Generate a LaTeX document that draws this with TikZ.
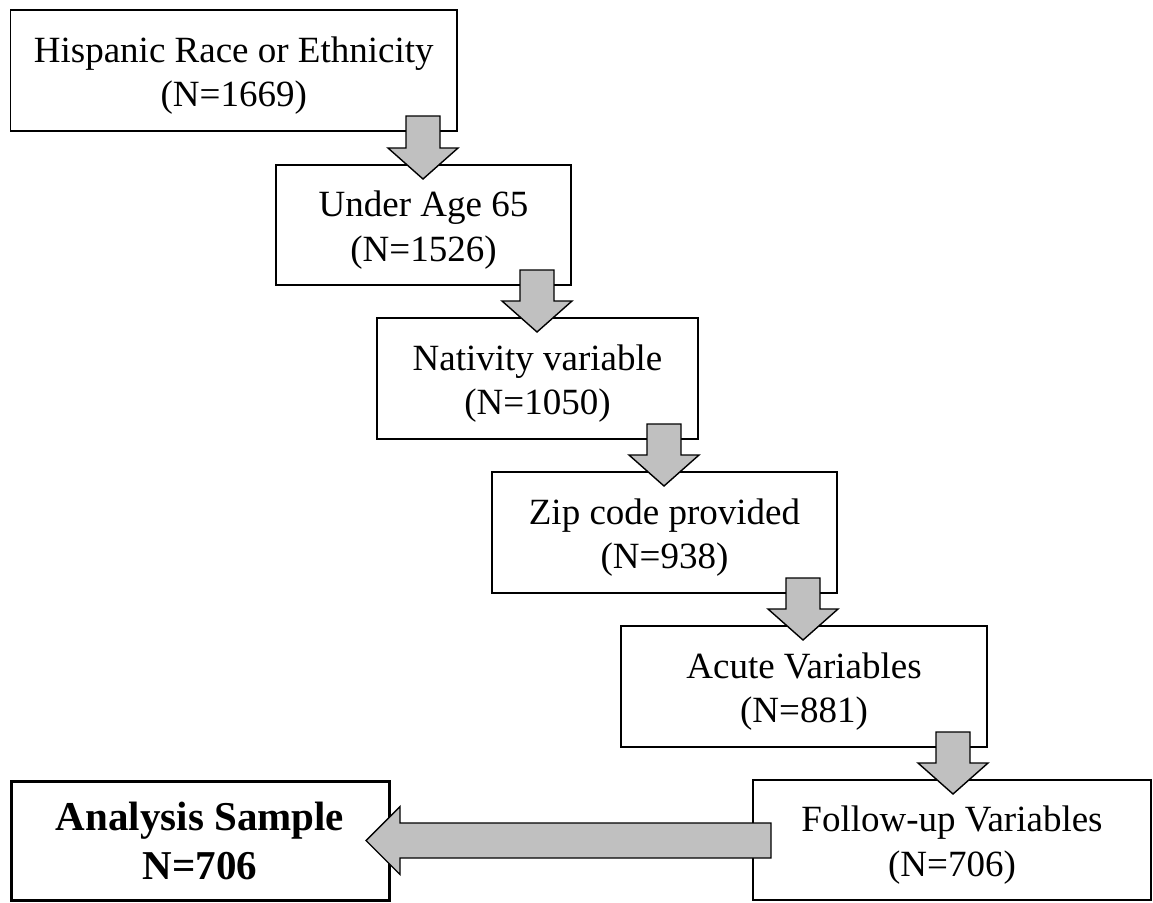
\documentclass[tikz,border=0pt]{standalone}
\usepackage{fontspec}
\setmainfont{Liberation Serif}
\usetikzlibrary{calc}
\definecolor{arrowfill}{RGB}{192,192,192}
\tikzset{
  box/.style={draw=black, line width=1.6pt, fill=white, rectangle, inner sep=0pt, outer sep=0pt},
  finalbox/.style={box, line width=3pt},
  txt/.style={align=center, inner sep=0pt, font=\fontsize{37}{44.5}\selectfont},
  boldtxt/.style={align=center, inner sep=0pt, font=\bfseries\fontsize{41}{49}\selectfont},
  blockarrow/.style={draw=black, fill=arrowfill, line width=1.4pt, line join=miter}
}
\newcommand\downblock[2]{%
  \draw[blockarrow] let \p1=(#1.south east), \p2=(#2.north) in
    (\x1-51pt,\y1+15pt) -- (\x1-17pt,\y1+15pt) -- (\x1-17pt,\y2+17pt) --
    (\x1+1pt,\y2+17pt) -- (\x1-34pt,\y2-14pt) -- (\x1-69pt,\y2+17pt) --
    (\x1-51pt,\y2+17pt) -- cycle;}
\begin{document}
\begin{tikzpicture}[x=1pt,y=-1pt]
\useasboundingbox (0,0) rectangle (1153,902);
% boxes
\node[box, minimum width=446.5pt, minimum height=121pt] (b1) at (233.75,70.5) {};
\node[box, minimum width=295pt, minimum height=120pt] (b2) at (423.5,225) {};
\node[box, minimum width=321pt, minimum height=121pt] (b3) at (537.5,378.5) {};
\node[box, minimum width=345pt, minimum height=121pt] (b4) at (664.5,532.5) {};
\node[box, minimum width=366pt, minimum height=121pt] (b5) at (804,686.5) {};
\node[box, minimum width=398pt, minimum height=120pt] (b6) at (952,840) {};
\node[finalbox, minimum width=378pt, minimum height=119pt] (ana) at (200,840.5) {};
% texts
\node[txt] (t1) at ([yshift=-5pt]b1.center) {Hispanic Race or Ethnicity\\(N=1669)};
\node[txt] (t2) at ([yshift=-5pt]b2.center) {Under Age 65\\(N=1526)};
\node[txt] (t3) at ([yshift=-5pt]b3.center) {Nativity variable\\(N=1050)};
\node[txt] (t4) at ([yshift=-5pt]b4.center) {Zip code provided\\(N=938)};
\node[txt] (t5) at ([yshift=-5pt]b5.center) {Acute Variables\\(N=881)};
\node[txt] (t6) at ([yshift=-5pt]b6.center) {Follow-up Variables\\(N=706)};
\node[boldtxt] (t7) at (ana.center) {Analysis Sample\\N=706};
% arrows
\downblock{b1}{b2}
\downblock{b2}{b3}
\downblock{b3}{b4}
\downblock{b4}{b5}
\downblock{b5}{b6}
\draw[blockarrow] let \p1=(ana.east), \p2=(b6.west) in
  (\x1-23pt,\y1) -- (\x1+11pt,\y1+34pt) -- (\x1+11pt,\y1+17.5pt) --
  (\x2+18pt,\y1+17.5pt) -- (\x2+18pt,\y1-17.5pt) -- (\x1+11pt,\y1-17.5pt) --
  (\x1+11pt,\y1-34pt) -- cycle;
\end{tikzpicture}
\end{document}
